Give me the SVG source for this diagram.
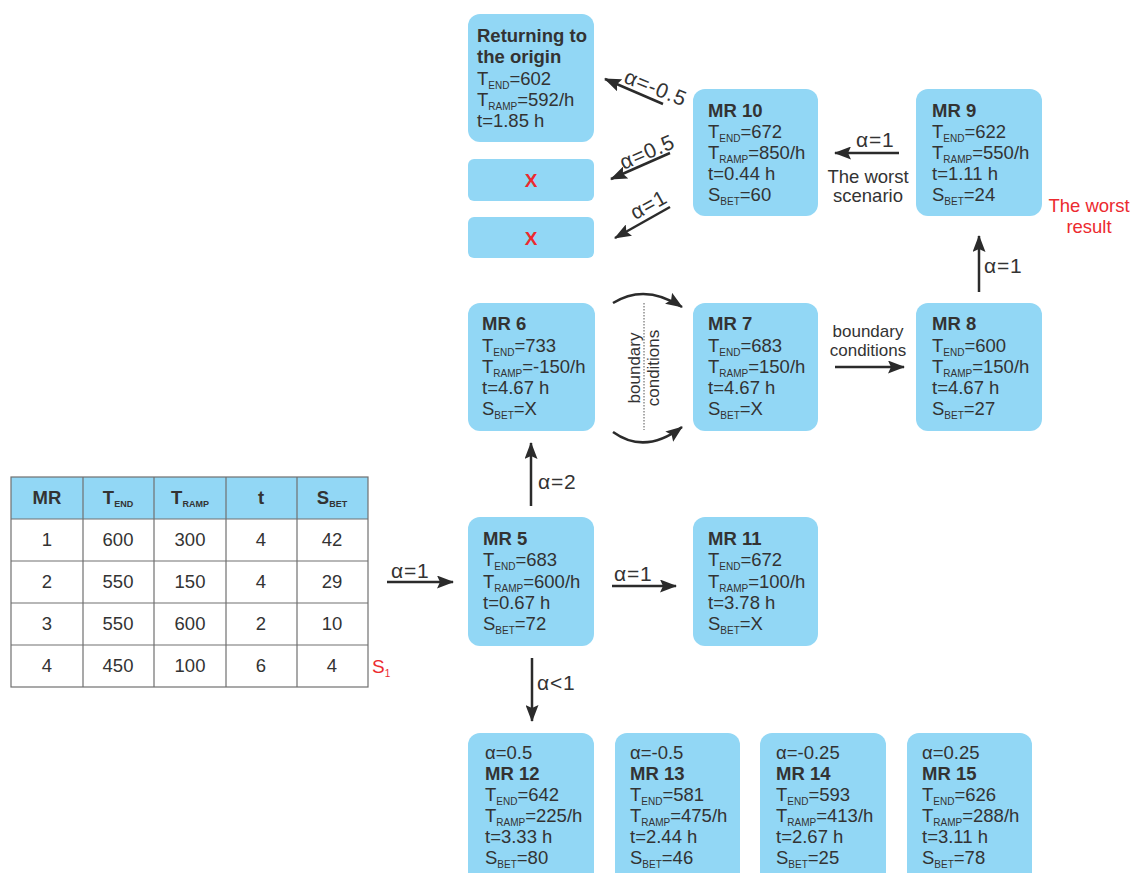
<svg xmlns="http://www.w3.org/2000/svg" width="1131" height="873" viewBox="0 0 1131 873">
<defs>
<style>
text{font-family:"Liberation Sans",Arial,Helvetica,sans-serif;fill:#333;font-size:18.5px}
.b{font-weight:bold}
.s{font-size:10px}
.sb{font-size:9px;font-weight:bold}
.l{font-size:21px;letter-spacing:0.8px}
.r{fill:#ec2a2f}
.box{fill:#92d7f5}
.c{stroke:#2b2b2b;stroke-width:2.5;fill:none;marker-end:url(#ah)}
.grid{stroke:#707070;stroke-width:1.2;fill:none}
.m{text-anchor:middle}
</style>
<marker id="ah" markerUnits="userSpaceOnUse" markerWidth="17" markerHeight="13" refX="16" refY="6.5" orient="auto">
<path d="M0,0 L17,6.5 L0,13 L3,6.5 z" fill="#2b2b2b"/>
</marker>
</defs>
<rect width="1131" height="873" fill="#fff"/>

<g id="table">
<rect x="11" y="477" width="357" height="42" class="box"/>
<rect x="11" y="477" width="357" height="210" class="grid"/>
<line x1="11" y1="519" x2="368" y2="519" class="grid"/>
<line x1="11" y1="561" x2="368" y2="561" class="grid"/>
<line x1="11" y1="603" x2="368" y2="603" class="grid"/>
<line x1="11" y1="645" x2="368" y2="645" class="grid"/>
<line x1="83" y1="477" x2="83" y2="687" class="grid"/>
<line x1="154" y1="477" x2="154" y2="687" class="grid"/>
<line x1="226" y1="477" x2="226" y2="687" class="grid"/>
<line x1="297" y1="477" x2="297" y2="687" class="grid"/>
<text x="47" y="504" class="b m">MR</text>
<text x="118" y="504" class="b m">T<tspan class="sb" dy="3">END</tspan></text>
<text x="190" y="504" class="b m">T<tspan class="sb" dy="3">RAMP</tspan></text>
<text x="261" y="504" class="b m">t</text>
<text x="332" y="504" class="b m">S<tspan class="sb" dy="3">BET</tspan></text>
<text x="47" y="546" class="m">1</text><text x="118" y="546" class="m">600</text><text x="190" y="546" class="m">300</text><text x="261" y="546" class="m">4</text><text x="332" y="546" class="m">42</text>
<text x="47" y="588" class="m">2</text><text x="118" y="588" class="m">550</text><text x="190" y="588" class="m">150</text><text x="261" y="588" class="m">4</text><text x="332" y="588" class="m">29</text>
<text x="47" y="630" class="m">3</text><text x="118" y="630" class="m">550</text><text x="190" y="630" class="m">600</text><text x="261" y="630" class="m">2</text><text x="332" y="630" class="m">10</text>
<text x="47" y="672" class="m">4</text><text x="118" y="672" class="m">450</text><text x="190" y="672" class="m">100</text><text x="261" y="672" class="m">6</text><text x="332" y="672" class="m">4</text>
<text x="372" y="673" class="r" style="font-size:19px">S<tspan class="s r" dy="4">1</tspan></text>
</g>

<g id="origin">
<rect x="468" y="14" width="126" height="128" rx="12" class="box"/>
<text x="477" y="42" class="b">Returning to</text>
<text x="477" y="63" class="b">the origin</text>
<text x="477" y="85">T<tspan class="s" dy="4">END</tspan><tspan dy="-4">=602</tspan></text>
<text x="477" y="106">T<tspan class="s" dy="4">RAMP</tspan><tspan dy="-4">=592/h</tspan></text>
<text x="477" y="127">t=1.85 h</text>
</g>
<g id="x1">
<rect x="468" y="159" width="126" height="42" rx="6" class="box"/>
<text x="531" y="187" class="b r m" style="font-size:19px">X</text>
</g>
<g id="x2">
<rect x="468" y="217" width="126" height="41" rx="6" class="box"/>
<text x="531" y="245" class="b r m" style="font-size:19px">X</text>
</g>

<g id="mr10">
<rect x="693" y="89" width="125" height="127" rx="12" class="box"/>
<text x="708" y="117" class="b">MR 10</text>
<text x="708" y="138">T<tspan class="s" dy="4">END</tspan><tspan dy="-4">=672</tspan></text>
<text x="708" y="159">T<tspan class="s" dy="4">RAMP</tspan><tspan dy="-4">=850/h</tspan></text>
<text x="708" y="180">t=0.44 h</text>
<text x="708" y="201">S<tspan class="s" dy="4">BET</tspan><tspan dy="-4">=60</tspan></text>
</g>
<g id="mr9">
<rect x="916" y="89" width="126" height="127" rx="12" class="box"/>
<text x="932" y="117" class="b">MR 9</text>
<text x="932" y="138">T<tspan class="s" dy="4">END</tspan><tspan dy="-4">=622</tspan></text>
<text x="932" y="159">T<tspan class="s" dy="4">RAMP</tspan><tspan dy="-4">=550/h</tspan></text>
<text x="932" y="180">t=1.11 h</text>
<text x="932" y="201">S<tspan class="s" dy="4">BET</tspan><tspan dy="-4">=24</tspan></text>
</g>
<g id="worst-result">
<text x="1089" y="212" class="r m">The worst</text>
<text x="1089" y="233" class="r m">result</text>
</g>

<g id="mr6">
<rect x="468" y="303" width="127" height="128" rx="12" class="box"/>
<text x="482" y="330" class="b">MR 6</text>
<text x="482" y="352">T<tspan class="s" dy="4">END</tspan><tspan dy="-4">=733</tspan></text>
<text x="482" y="373">T<tspan class="s" dy="4">RAMP</tspan><tspan dy="-4">=-150/h</tspan></text>
<text x="482" y="394">t=4.67 h</text>
<text x="482" y="415">S<tspan class="s" dy="4">BET</tspan><tspan dy="-4">=X</tspan></text>
</g>
<g id="mr7">
<rect x="693" y="303" width="125" height="128" rx="12" class="box"/>
<text x="708" y="330" class="b">MR 7</text>
<text x="708" y="352">T<tspan class="s" dy="4">END</tspan><tspan dy="-4">=683</tspan></text>
<text x="708" y="373">T<tspan class="s" dy="4">RAMP</tspan><tspan dy="-4">=150/h</tspan></text>
<text x="708" y="394">t=4.67 h</text>
<text x="708" y="415">S<tspan class="s" dy="4">BET</tspan><tspan dy="-4">=X</tspan></text>
</g>
<g id="mr8">
<rect x="916" y="303" width="126" height="128" rx="12" class="box"/>
<text x="932" y="330" class="b">MR 8</text>
<text x="932" y="352">T<tspan class="s" dy="4">END</tspan><tspan dy="-4">=600</tspan></text>
<text x="932" y="373">T<tspan class="s" dy="4">RAMP</tspan><tspan dy="-4">=150/h</tspan></text>
<text x="932" y="394">t=4.67 h</text>
<text x="932" y="415">S<tspan class="s" dy="4">BET</tspan><tspan dy="-4">=27</tspan></text>
</g>

<g id="mr5">
<rect x="468" y="517" width="126" height="129" rx="12" class="box"/>
<text x="483" y="545" class="b">MR 5</text>
<text x="483" y="566">T<tspan class="s" dy="4">END</tspan><tspan dy="-4">=683</tspan></text>
<text x="483" y="588">T<tspan class="s" dy="4">RAMP</tspan><tspan dy="-4">=600/h</tspan></text>
<text x="483" y="609">t=0.67 h</text>
<text x="483" y="630">S<tspan class="s" dy="4">BET</tspan><tspan dy="-4">=72</tspan></text>
</g>
<g id="mr11">
<rect x="693" y="517" width="125" height="129" rx="12" class="box"/>
<text x="708" y="545" class="b">MR 11</text>
<text x="708" y="566">T<tspan class="s" dy="4">END</tspan><tspan dy="-4">=672</tspan></text>
<text x="708" y="588">T<tspan class="s" dy="4">RAMP</tspan><tspan dy="-4">=100/h</tspan></text>
<text x="708" y="609">t=3.78 h</text>
<text x="708" y="630">S<tspan class="s" dy="4">BET</tspan><tspan dy="-4">=X</tspan></text>
</g>

<g id="mr12">
<rect x="468" y="733" width="126" height="160" rx="12" class="box"/>
<text x="485" y="759">α=0.5</text>
<text x="485" y="780" class="b">MR 12</text>
<text x="485" y="801">T<tspan class="s" dy="4">END</tspan><tspan dy="-4">=642</tspan></text>
<text x="485" y="822">T<tspan class="s" dy="4">RAMP</tspan><tspan dy="-4">=225/h</tspan></text>
<text x="485" y="843">t=3.33 h</text>
<text x="485" y="864">S<tspan class="s" dy="4">BET</tspan><tspan dy="-4">=80</tspan></text>
</g>
<g id="mr13">
<rect x="615" y="733" width="125" height="160" rx="12" class="box"/>
<text x="630" y="759">α=-0.5</text>
<text x="630" y="780" class="b">MR 13</text>
<text x="630" y="801">T<tspan class="s" dy="4">END</tspan><tspan dy="-4">=581</tspan></text>
<text x="630" y="822">T<tspan class="s" dy="4">RAMP</tspan><tspan dy="-4">=475/h</tspan></text>
<text x="630" y="843">t=2.44 h</text>
<text x="630" y="864">S<tspan class="s" dy="4">BET</tspan><tspan dy="-4">=46</tspan></text>
</g>
<g id="mr14">
<rect x="760" y="733" width="126" height="160" rx="12" class="box"/>
<text x="776" y="759">α=-0.25</text>
<text x="776" y="780" class="b">MR 14</text>
<text x="776" y="801">T<tspan class="s" dy="4">END</tspan><tspan dy="-4">=593</tspan></text>
<text x="776" y="822">T<tspan class="s" dy="4">RAMP</tspan><tspan dy="-4">=413/h</tspan></text>
<text x="776" y="843">t=2.67 h</text>
<text x="776" y="864">S<tspan class="s" dy="4">BET</tspan><tspan dy="-4">=25</tspan></text>
</g>
<g id="mr15">
<rect x="907" y="733" width="125" height="160" rx="12" class="box"/>
<text x="922" y="759">α=0.25</text>
<text x="922" y="780" class="b">MR 15</text>
<text x="922" y="801">T<tspan class="s" dy="4">END</tspan><tspan dy="-4">=626</tspan></text>
<text x="922" y="822">T<tspan class="s" dy="4">RAMP</tspan><tspan dy="-4">=288/h</tspan></text>
<text x="922" y="843">t=3.11 h</text>
<text x="922" y="864">S<tspan class="s" dy="4">BET</tspan><tspan dy="-4">=78</tspan></text>
</g>

<g id="connectors">
<line x1="387" y1="582" x2="453" y2="582" class="c"/>
<text x="391" y="578" class="l">α=1</text>
<line x1="612" y1="586" x2="676" y2="586" class="c"/>
<text x="614" y="581" class="l">α=1</text>
<line x1="531" y1="506" x2="531" y2="443" class="c"/>
<text x="538" y="489" class="l">α=2</text>
<line x1="532" y1="658" x2="532" y2="721" class="c"/>
<text x="537" y="690" class="l">α&lt;1</text>
<line x1="835" y1="367" x2="904" y2="367" class="c"/>
<text x="868" y="337" class="m" style="font-size:17px">boundary</text>
<text x="868" y="356" class="m" style="font-size:17px">conditions</text>
<line x1="979" y1="292" x2="979" y2="236" class="c"/>
<text x="984" y="273" class="l">α=1</text>
<line x1="899" y1="153" x2="835" y2="153" class="c"/>
<text x="856" y="147" class="l">α=1</text>
<text x="868" y="183" class="m">The worst</text>
<text x="868" y="202" class="m">scenario</text>
<path d="M613,303 Q645,283 682,307" class="c"/>
<path d="M613,432 Q645,455 682,427" class="c"/>
<line x1="644" y1="303" x2="644" y2="430" stroke="#555" stroke-width="1" stroke-dasharray="1.5,1.5"/>
<text transform="translate(640,368) rotate(-90)" class="m" style="font-size:17px">boundary</text>
<text transform="translate(659,368) rotate(-90)" class="m" style="font-size:17px">conditions</text>
<line x1="663" y1="104" x2="605" y2="79" class="c"/>
<text transform="translate(653,94.5) rotate(22)" class="l m">α=-0.5</text>
<line x1="670" y1="153" x2="611" y2="179" class="c"/>
<text transform="translate(650,158.5) rotate(-23.5)" class="l m">α=0.5</text>
<line x1="670" y1="207" x2="615" y2="238" class="c"/>
<text transform="translate(652,211) rotate(-29)" class="l m">α=1</text>
</g>
</svg>
